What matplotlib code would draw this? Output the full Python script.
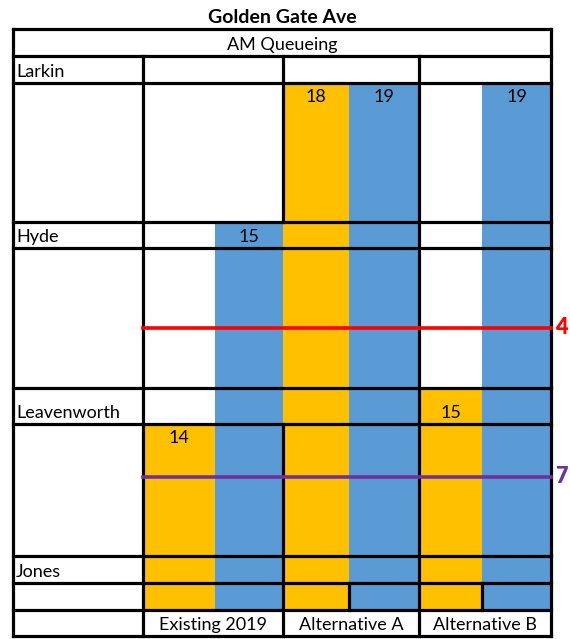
import matplotlib.pyplot as plt

plt.rcParams["font.family"] = ["Lato", "DejaVu Sans"]

# data
title = "Golden Gate Ave"
period = "AM Queueing"
streets = ["Larkin", "Hyde", "Leavenworth", "Jones"]
scenarios = ["Existing 2019", "Alternative A", "Alternative B"]
queue_orange = [14, 18, 15]
queue_blue = [15, 19, 19]
# table row that each queue reaches (0 = header row, 9 = label row)
reach_orange = [6, 2, 5]
reach_blue = [3, 2, 2]
thresholds = [4, 7]

ORANGE = "#FFC000"
BLUE = "#5B9BD5"
THRESH_COLORS = ["#FF0000", "#7030A0"]

# layout (pixels)
row_heights = [27, 27, 139, 26, 140, 36, 132, 27, 27, 26]
street_rows = [1, 3, 5, 7]
label_row = 9
queue_end_row = 8
col_edges = [13, 143, 283, 419, 551]
splits = [215, 349, 482]
thresh_rows = [4, 6]
thresh_frac = [0.57, 0.40]
LW = 2.3
FS = 13

row_edges = [29]
for h in row_heights:
    row_edges.append(row_edges[-1] + h)


def main():
    fig = plt.figure(figsize=(5.7, 6.39), dpi=100)
    ax = fig.add_axes([0, 0, 1, 1])
    ax.set_xlim(0, 570)
    ax.set_ylim(639, 0)
    ax.axis("off")

    bottom = row_edges[queue_end_row + 1]
    for i in range(len(scenarios)):
        left, mid, right = col_edges[i + 1], splits[i], col_edges[i + 2]
        for x0, x1, reach, val, color in [
            (left, mid, reach_orange[i], queue_orange[i], ORANGE),
            (mid, right, reach_blue[i], queue_blue[i], BLUE),
        ]:
            top = row_edges[reach]
            ax.bar(x0, bottom - top, width=x1 - x0, bottom=top,
                   align="edge", color=color, linewidth=0, zorder=1)
            if reach in street_rows:
                ty, va = row_edges[reach + 1] - 3, "bottom"
            else:
                ty, va = top + 6, "top"
            ax.text((x0 + x1) / 2, ty, str(val), ha="center", va=va,
                    fontsize=FS, zorder=5)

    # grid lines
    for y in row_edges:
        ax.plot([col_edges[0], col_edges[-1]], [y, y], color="black",
                lw=LW, zorder=3, solid_capstyle="projecting")
    ax.plot([13, 13], [row_edges[0], row_edges[-1]], color="black", lw=LW, zorder=3)
    ax.plot([551, 551], [row_edges[0], row_edges[-1]], color="black", lw=LW, zorder=3)
    for x in [col_edges[1], col_edges[3]]:
        ax.plot([x, x], [row_edges[1], row_edges[-1]], color="black", lw=LW, zorder=3)
    ax.plot([283, 283], [row_edges[1], row_edges[3]], color="black", lw=LW, zorder=3)
    ax.plot([283, 283], [row_edges[6], row_edges[-1]], color="black", lw=LW, zorder=3)
    for x in splits[1:]:
        ax.plot([x, x], [row_edges[8], row_edges[9]], color="black", lw=LW, zorder=3)

    # threshold lines
    for val, r, f, c in zip(thresholds, thresh_rows, thresh_frac, THRESH_COLORS):
        y = row_edges[r] + f * row_heights[r]
        ax.plot([col_edges[1], col_edges[-1]], [y, y], color=c, lw=2.6, zorder=4)
        ax.text(col_edges[-1] + 4, y, str(val), color=c, fontsize=15.5,
                fontweight="heavy", ha="left", va="center")

    # text
    ax.text(282, row_edges[0] - 3, title, ha="center", va="bottom",
            fontsize=14, fontweight="bold")
    ax.text(282, row_edges[1] - 3, period, ha="center", va="bottom", fontsize=FS)
    for name, r in zip(streets, street_rows):
        ax.text(16, row_edges[r + 1] - 3, name, ha="left", va="bottom", fontsize=FS)
    for i, name in enumerate(scenarios):
        ax.text((col_edges[i + 1] + col_edges[i + 2]) / 2, row_edges[label_row + 1] - 3,
                name, ha="center", va="bottom", fontsize=FS)

    fig.savefig("out.png", dpi=100)


if __name__ == "__main__":
    main()
